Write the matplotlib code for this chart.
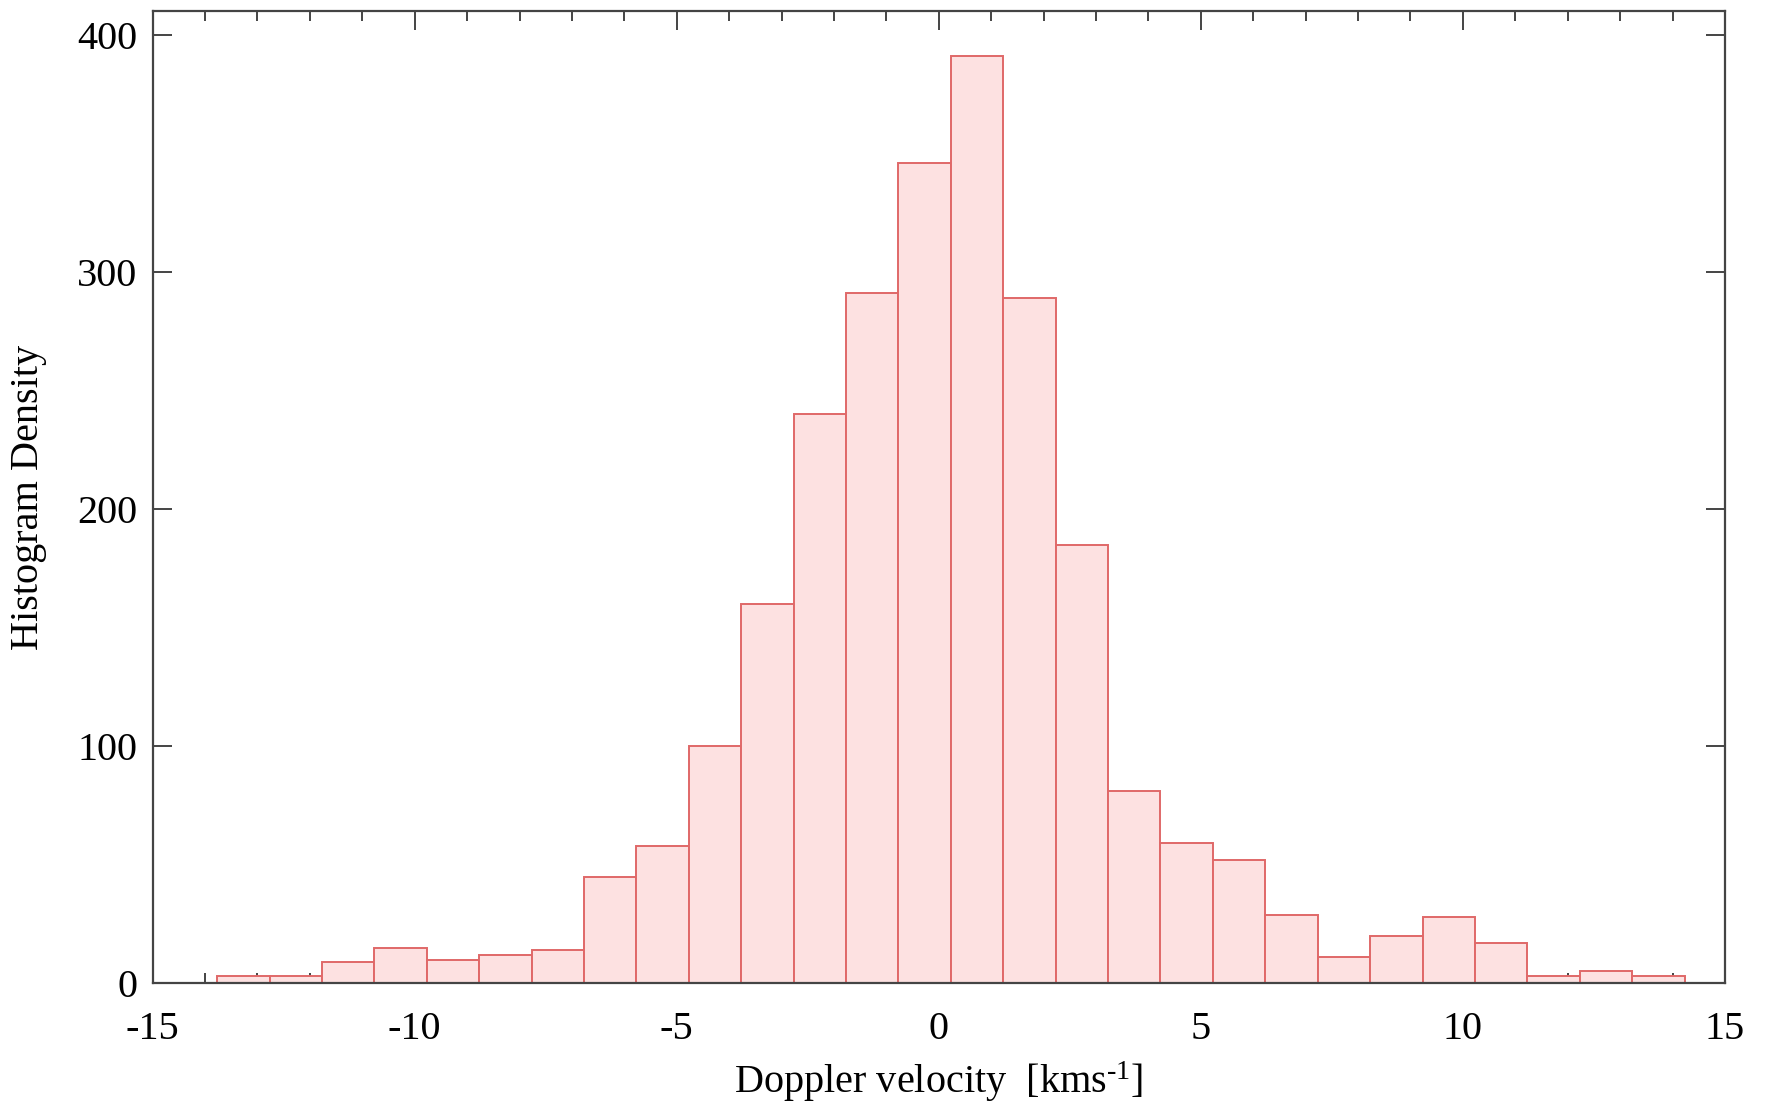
import matplotlib
matplotlib.use("Agg")
import matplotlib.pyplot as plt
from matplotlib.ticker import MultipleLocator

plt.rcParams['font.family'] = ['Liberation Serif', 'DejaVu Serif']
plt.rcParams['mathtext.fontset'] = 'custom'
plt.rcParams['mathtext.rm'] = 'Liberation Serif'
plt.rcParams['mathtext.it'] = 'Liberation Serif:italic'
plt.rcParams['axes.unicode_minus'] = False

# Data: bin left edges (km/s) and counts
bin_left = [-13.77, -12.77, -11.77, -10.77, -9.77, -8.77, -7.77, -6.77, -5.77, -4.77,
            -3.77, -2.77, -1.77, -0.77, 0.23, 1.23, 2.23, 3.23, 4.23, 5.23,
            6.23, 7.23, 8.23, 9.23, 10.23, 11.23, 12.23, 13.23]
bin_width = 1.0
counts = [3, 3, 9, 15, 10, 12, 14, 45, 58, 100,
          160, 240, 291, 346, 391, 289, 185, 81, 59, 52,
          29, 11, 20, 28, 17, 3, 5, 3]
xticks = [-15, -10, -5, 0, 5, 10, 15]
yticks = [0, 100, 200, 300, 400]

fig = plt.figure(figsize=(17.67, 11.13), dpi=100)
ax = fig.add_axes([0.0864, 0.1165, 0.9762 - 0.0864, 0.9898 - 0.1165])

ax.bar(bin_left, counts, width=bin_width, align='edge',
       facecolor='#fde1e1', edgecolor='#e06868', linewidth=1.4, zorder=2)

ax.set_xlim(-15, 15)
ax.set_ylim(0, 410)
ax.set_xticks(xticks)
ax.set_xticklabels([str(t) for t in xticks])
ax.set_yticks(yticks)
ax.set_yticklabels([str(t) for t in yticks])
ax.xaxis.set_minor_locator(MultipleLocator(1))

for s in ax.spines.values():
    s.set_color('#444444')
    s.set_linewidth(1.6)

ax.tick_params(axis='x', which='major', direction='in', length=14, width=1.4,
               color='#444444', top=True, labelsize=29, pad=20)
ax.tick_params(axis='x', which='minor', direction='in', length=7, width=1.4,
               color='#444444', top=True)
ax.tick_params(axis='y', which='major', direction='in', length=14, width=1.4,
               color='#444444', right=True, labelsize=29, pad=11)

ax.set_xlabel(r'Doppler velocity  [kms$^{\text{-}1}$]', fontsize=29, labelpad=8)
ax.set_ylabel('Histogram Density', fontsize=29, labelpad=22)

fig.savefig('out.png', dpi=100)
